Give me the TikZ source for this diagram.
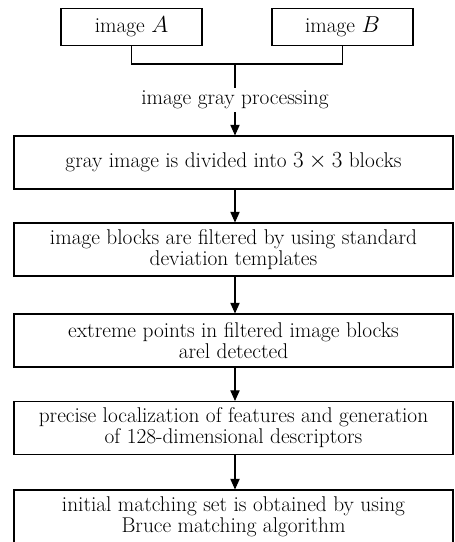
\documentclass[tikz,border=0pt]{standalone}
\usepackage{amsmath}
\usetikzlibrary{arrows.meta}

\begin{document}
\begin{tikzpicture}[x=0.75pt, y=-0.75pt, line width=0.8pt,
    font=\fontsize{16}{15.8}\selectfont,
    inbox/.style={draw, minimum width=105.75pt, minimum height=27.75pt, inner sep=0pt},
    stepbox/.style={draw, minimum width=329.25pt, minimum height=39.75pt, inner sep=0pt, align=center},
    flow/.style={-{Triangle[width=7pt,length=8pt]}}]
    \useasboundingbox (0,0) rectangle (454,542);

    % Input images
    \node[inbox] (imgA) at (131.5, 27) {image $A$};
    \node[inbox] (imgB) at (342.5, 27) {image $B$};

    % Bracket joining both inputs
    \coordinate (join) at (235, 64);
    \draw (imgA.south) |- (join) -| (imgB.south);

    % Gray processing label
    \node[inner sep=2pt] (gray) at (235, 100) {image gray processing};
    \draw (join) -- (gray.north);

    % Processing steps
    \node[stepbox] (divide) at (233.5, 162.5) {gray image is divided into $3\times3$ blocks};
    \node[stepbox] (filter) at (233.5, 249.5) {image blocks are filtered by using standard\\deviation templates};
    \node[stepbox] (extreme) at (233.5, 340.5) {extreme points in filtered image blocks\\arel detected};
    \node[stepbox] (locate) at (233.5, 428) {precise localization of features and generation\\of 128-dimensional descriptors};
    \node[stepbox] (match) at (233.5, 516.5) {initial matching set is obtained by using\\Bruce matching algorithm};

    % Arrows between steps
    \draw[flow] (gray.south) -- (gray.south |- divide.north);
    \draw[flow] (gray.south |- divide.south) -- (gray.south |- filter.north);
    \draw[flow] (gray.south |- filter.south) -- (gray.south |- extreme.north);
    \draw[flow] (gray.south |- extreme.south) -- (gray.south |- locate.north);
    \draw[flow] (gray.south |- locate.south) -- (gray.south |- match.north);

\end{tikzpicture}
\end{document}
